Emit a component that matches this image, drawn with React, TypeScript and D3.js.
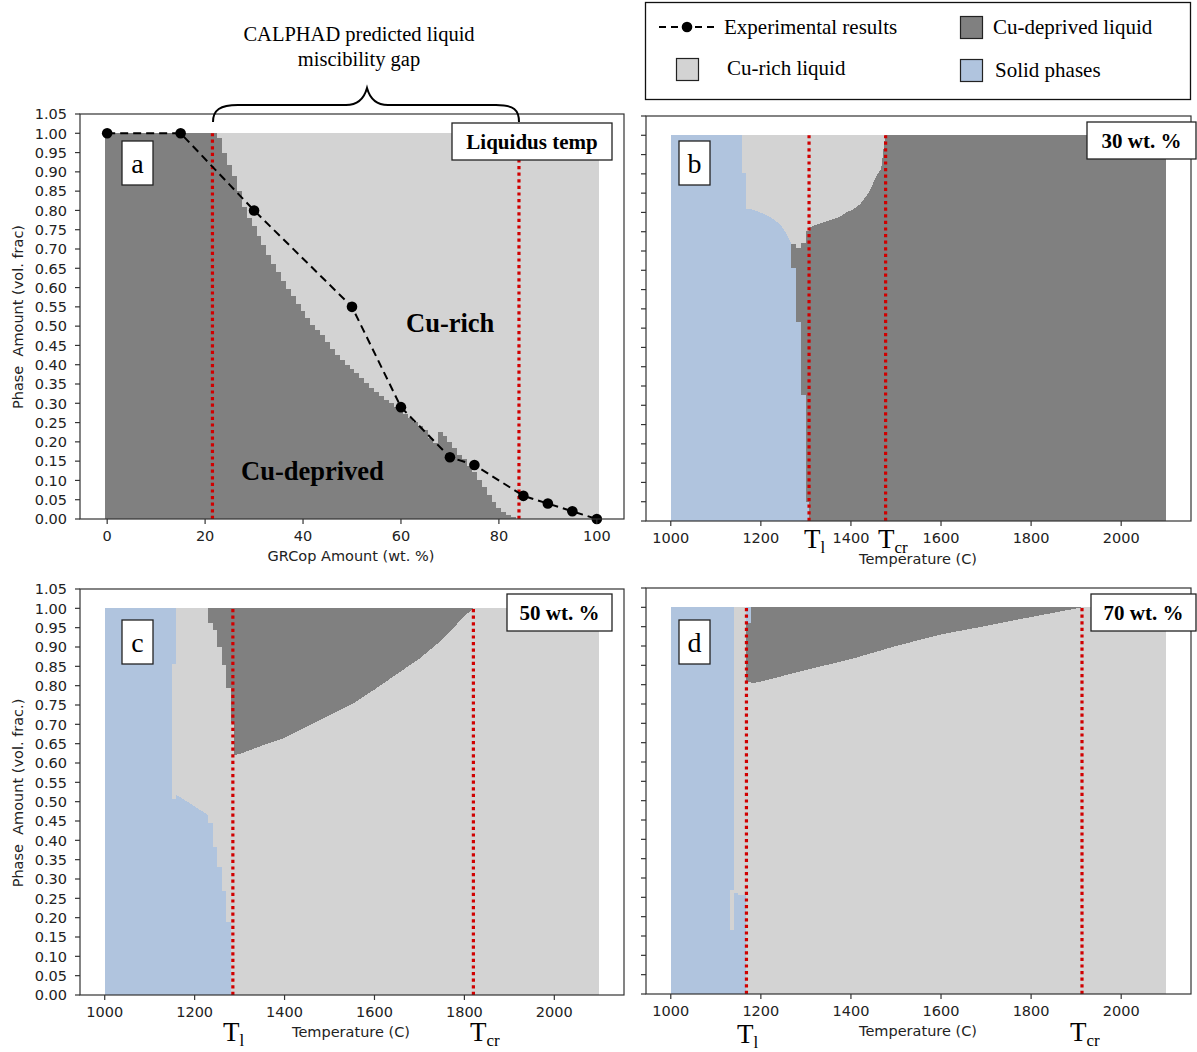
import React from 'react';
import * as d3 from 'd3';

const COLOR_DEPRIVED = '#808080';
const COLOR_RICH = '#d3d3d3';
const COLOR_SOLID = '#b0c4de';
const COLOR_RED = '#d00000';
const SANS = '"DejaVu Sans", sans-serif';
const SERIF = '"Liberation Serif", "Times New Roman", serif';

// ---------- Panel a : phase amount vs GRCop amount ----------
const grcopAmounts = d3.range(0, 101);
const cuDeprivedFraction = [
  1, 1, 1, 1, 1, 1, 1, 1, 1, 1, 1, 1, 1, 1, 1, 1, 1, 1, 1, 1, 1, 1, 1,
  0.987, 0.95, 0.918, 0.888, 0.85, 0.81, 0.78, 0.76, 0.735, 0.71,
  0.685, 0.662, 0.64, 0.618, 0.597, 0.577, 0.557, 0.538, 0.52, 0.503,
  0.49, 0.478, 0.458, 0.44, 0.425, 0.412, 0.4, 0.39, 0.378, 0.365,
  0.352, 0.34, 0.328, 0.318, 0.308, 0.3, 0.291, 0.28, 0.272, 0.262,
  0.252, 0.24, 0.23, 0.21, 0.197, 0.225, 0.214, 0.2, 0.183, 0.167,
  0.155, 0.137, 0.122, 0.1, 0.083, 0.063, 0.045, 0.028, 0.019, 0.011, 0.005,
  0, 0, 0, 0, 0, 0, 0, 0, 0, 0, 0, 0, 0, 0, 0, 0, 0,
];
const expAmount = [0, 15, 30, 50, 60, 70, 75, 85, 90, 95, 100];
const expFraction = [1.0, 1.0, 0.8, 0.55, 0.29, 0.16, 0.14, 0.06, 0.04, 0.02, 0.0];
const aMarkers = [21.5, 84.1];

// ---------- Panel b : 30 wt.% ----------
const bTemp = [1000, 1159, 1159, 1168, 1168, 1183, 1198, 1213, 1227, 1242, 1253, 1261, 1268, 1268, 1279, 1279, 1290, 1290, 1301, 1301, 1307, 1307, 1316, 1338, 1361, 1376, 1390, 1405, 1420, 1431, 1442, 1450, 1459, 1467, 1471, 1476, 2100];
const bSolid = [1, 1, 0.903, 0.903, 0.81, 0.807, 0.8, 0.793, 0.783, 0.77, 0.752, 0.735, 0.718, 0.657, 0.657, 0.515, 0.515, 0.326, 0.326, 0.049, 0.049, 0, 0, 0, 0, 0, 0, 0, 0, 0, 0, 0, 0, 0, 0, 0, 0];
const bDeprived = [0, 0, 0, 0, 0, 0, 0, 0, 0, 0, 0, 0, 0, 0.061, 0.061, 0.194, 0.194, 0.396, 0.396, 0.703, 0.703, 0.761, 0.765, 0.774, 0.783, 0.789, 0.8, 0.808, 0.821, 0.838, 0.856, 0.878, 0.9, 0.912, 0.951, 1.0, 1.0];
const bRich = [0, 0, 0.097, 0.097, 0.19, 0.193, 0.2, 0.207, 0.217, 0.23, 0.248, 0.265, 0.282, 0.282, 0.282, 0.291, 0.291, 0.278, 0.278, 0.248, 0.248, 0.239, 0.235, 0.226, 0.217, 0.211, 0.2, 0.192, 0.179, 0.162, 0.144, 0.122, 0.1, 0.088, 0.049, 0, 0];
const bMarkers = [1307, 1477];

// ---------- Panel c : 50 wt.% ----------
const cTemp = [1000, 1150, 1150, 1159, 1159, 1200, 1230, 1230, 1240, 1240, 1250, 1250, 1260, 1260, 1270, 1270, 1280, 1280, 1287, 1287, 1300, 1350, 1400, 1450, 1500, 1550, 1600, 1650, 1700, 1750, 1780, 1800, 1820, 2100];
const cSolid = [1, 1, 0.508, 0.508, 0.518, 0.488, 0.465, 0.444, 0.444, 0.384, 0.384, 0.332, 0.332, 0.268, 0.268, 0.19, 0.19, 0, 0, 0, 0, 0, 0, 0, 0, 0, 0, 0, 0, 0, 0, 0, 0, 0];
const cRich = [0, 0, 0.349, 0.349, 0.482, 0.512, 0.535, 0.517, 0.517, 0.56, 0.56, 0.568, 0.568, 0.585, 0.585, 0.603, 0.603, 0.703, 0.703, 0.621, 0.623, 0.645, 0.665, 0.695, 0.723, 0.752, 0.79, 0.83, 0.87, 0.918, 0.955, 0.98, 1.0, 1.0];
const cDeprived = [0, 0, 0, 0, 0, 0, 0, 0.039, 0.039, 0.056, 0.056, 0.1, 0.1, 0.147, 0.147, 0.207, 0.207, 0.297, 0.297, 0.379, 0.377, 0.355, 0.335, 0.305, 0.277, 0.248, 0.21, 0.17, 0.13, 0.082, 0.045, 0.02, 0, 0];
const cSolidTop = [0, 0, 0.143, 0.143, 0, 0, 0, 0, 0, 0, 0, 0, 0, 0, 0, 0, 0, 0, 0, 0, 0, 0, 0, 0, 0, 0, 0, 0, 0, 0, 0, 0, 0, 0];
const cMarkers = [1285, 1820];

// ---------- Panel d : 70 wt.% ----------
const dTemp = [1000, 1131, 1131, 1141, 1141, 1150, 1150, 1168, 1168, 1179, 1179, 1200, 1300, 1400, 1500, 1600, 1700, 1800, 1913, 2100];
const dSolid = [1, 1, 0.166, 0.166, 0.26, 0.26, 0.257, 0.257, 0, 0, 0, 0, 0, 0, 0, 0, 0, 0, 0, 0];
const dRich = [0, 0, 0.103, 0.103, 0.74, 0.74, 0.743, 0.743, 0.808, 0.808, 0.803, 0.808, 0.838, 0.866, 0.9, 0.93, 0.952, 0.975, 1.0, 1.0];
const dDeprived = [0, 0, 0, 0, 0, 0, 0, 0, 0.151, 0.151, 0.197, 0.192, 0.162, 0.134, 0.1, 0.07, 0.048, 0.025, 0, 0];
const dSolidTop = [0, 0, 0.731, 0.731, 0, 0, 0, 0, 0.041, 0.041, 0, 0, 0, 0, 0, 0, 0, 0, 0, 0];
const dMarkers = [1168, 1913];

// ---------- ticks ----------
const yTicks = [0, 0.05, 0.1, 0.15, 0.2, 0.25, 0.3, 0.35, 0.4, 0.45, 0.5, 0.55, 0.6, 0.65, 0.7, 0.75, 0.8, 0.85, 0.9, 0.95, 1.0, 1.05];
const gapTicks = [0, 20, 40, 60, 80, 100];
const tempTicks = [1000, 1200, 1400, 1600, 1800, 2000];

type Box = { left: number; right: number; top: number; bottom: number };
const BOX_A: Box = { left: 80, right: 624, top: 114, bottom: 519 };
const BOX_B: Box = { left: 646, right: 1191, top: 116, bottom: 521 };
const BOX_C: Box = { left: 80, right: 624, top: 589, bottom: 995 };
const BOX_D: Box = { left: 646, right: 1191, top: 588, bottom: 994 };

const fmtY = d3.format('.2f');

function Axes({ box, xs, ys, xTicks, showYLabels }: any) {
  return (
    <g>
      <rect x={box.left} y={box.top} width={box.right - box.left} height={box.bottom - box.top}
        fill="none" stroke="#333" strokeWidth={1.2} />
      {xTicks.map((t: number) => (
        <g key={'x' + t}>
          <line x1={xs(t)} x2={xs(t)} y1={box.bottom} y2={box.bottom + 5} stroke="#333" strokeWidth={1.2} />
          <text x={xs(t)} y={box.bottom + 22} textAnchor="middle" fontFamily={SANS} fontSize={14.5} fill="#222">{t}</text>
        </g>
      ))}
      {yTicks.map((t) => (
        <g key={'y' + t}>
          <line x1={box.left - 5} x2={box.left} y1={ys(t)} y2={ys(t)} stroke="#333" strokeWidth={1.2} />
          {showYLabels && (
            <text x={box.left - 13} y={ys(t)} dy="0.36em" textAnchor="end" fontFamily={SANS} fontSize={14.5} fill="#222">{fmtY(t)}</text>
          )}
        </g>
      ))}
    </g>
  );
}

function PhaseStack({ temps, layers, xs, ys }: any) {
  const rows = temps.map((T: number, i: number) => {
    const r: any = { T };
    layers.forEach((l: any, k: number) => { r['k' + k] = l.values[i]; });
    return r;
  });
  const keys = layers.map((_: any, k: number) => 'k' + k);
  const series = d3.stack<any>().keys(keys)(rows);
  const area = d3.area<any>()
    .x((d: any) => xs(d.data.T))
    .y0((d: any) => ys(d[0]))
    .y1((d: any) => ys(d[1]));
  return (
    <g>
      {series.map((s: any, k: number) => (
        <path key={k} d={area(s) || ''} fill={layers[k].color} shapeRendering="crispEdges" />
      ))}
    </g>
  );
}

function Markers({ values, xs, ys }: any) {
  return (
    <g>
      {values.map((v: number) => (
        <line key={v} x1={xs(v)} x2={xs(v)} y1={ys(0)} y2={ys(1)} stroke={COLOR_RED}
          strokeWidth={3.2} strokeDasharray="3.2,3.4" />
      ))}
    </g>
  );
}

function LetterBox({ x, y, letter }: any) {
  return (
    <g>
      <rect x={x} y={y} width={31} height={44} fill="#fff" stroke="#222" strokeWidth={1.3} />
      <text x={x + 15.5} y={y + 32} textAnchor="middle" fontFamily={SERIF} fontSize={28} fill="#000">{letter}</text>
    </g>
  );
}

function TagBox({ x, y, w, h, label }: any) {
  return (
    <g>
      <rect x={x} y={y} width={w} height={h} fill="#fff" stroke="#222" strokeWidth={1.3} />
      <text x={x + w / 2} y={y + h / 2 + 7} textAnchor="middle" fontFamily={SERIF} fontWeight="bold" fontSize={21} fill="#000">{label}</text>
    </g>
  );
}

function TLabel({ x, y, sub }: any) {
  return (
    <text x={x} y={y} fontFamily={SERIF} fontSize={27} fill="#000">
      T<tspan fontSize={17} dy={5}>{sub}</tspan>
    </text>
  );
}

export default function App() {
  const xa = d3.scaleLinear().domain([-5.55, 105.55]).range([BOX_A.left, BOX_A.right]);
  const ya = d3.scaleLinear().domain([0, 1.05]).range([BOX_A.bottom, BOX_A.top]);
  const xb = d3.scaleLinear().domain([945, 2155]).range([BOX_B.left, BOX_B.right]);
  const yb = d3.scaleLinear().domain([0, 1.05]).range([BOX_B.bottom, BOX_B.top]);
  const xc = d3.scaleLinear().domain([945, 2155]).range([BOX_C.left, BOX_C.right]);
  const yc = d3.scaleLinear().domain([0, 1.05]).range([BOX_C.bottom, BOX_C.top]);
  const xd = d3.scaleLinear().domain([945, 2155]).range([BOX_D.left, BOX_D.right]);
  const yd = d3.scaleLinear().domain([0, 1.05]).range([BOX_D.bottom, BOX_D.top]);

  const expPts = expAmount.map((a, i) => [a, expFraction[i]] as [number, number]);
  const expLine = d3.line<[number, number]>().x((d) => xa(d[0])).y((d) => ya(d[1]))(expPts) || '';

  return (
    <svg width={1197} height={1052} style={{ position: 'absolute', left: 0, top: 0, background: '#fff' }}>
      <rect x={0} y={0} width={1197} height={1052} fill="#fff" />

      {/* ---------------- Panel a ---------------- */}
      <g>
        {grcopAmounts.map((g, i) => {
          const x0 = xa(g - 0.5);
          const w = xa(g + 0.5) - x0;
          const v = cuDeprivedFraction[i];
          return (
            <g key={g}>
              <rect x={x0} y={ya(1)} width={w} height={ya(v) - ya(1)} fill={COLOR_RICH} shapeRendering="crispEdges" />
              <rect x={x0} y={ya(v)} width={w} height={ya(0) - ya(v)} fill={COLOR_DEPRIVED} shapeRendering="crispEdges" />
            </g>
          );
        })}
        <Markers values={aMarkers} xs={xa} ys={ya} />
        <path d={expLine} fill="none" stroke="#000" strokeWidth={2} strokeDasharray="8,5" />
        {expPts.map((p, i) => (
          <circle key={i} cx={xa(p[0])} cy={ya(p[1])} r={5.3} fill="#000" />
        ))}
        <Axes box={BOX_A} xs={xa} ys={ya} xTicks={gapTicks} showYLabels={true} />
        <LetterBox x={122} y={141} letter="a" />
        <TagBox x={452} y={123} w={160} h={37} label="Liquidus temp" />
        <text x={406} y={332} fontFamily={SERIF} fontWeight="bold" fontSize={26.5} fill="#000">Cu-rich</text>
        <text x={241} y={480} fontFamily={SERIF} fontWeight="bold" fontSize={26.5} fill="#000">Cu-deprived</text>
        <text x={351} y={561} textAnchor="middle" fontFamily={SANS} fontSize={14.5} fill="#222">GRCop Amount (wt. %)</text>
        <text transform="translate(23,317) rotate(-90)" textAnchor="middle" fontFamily={SANS} fontSize={14.5} fill="#222" style={{ whiteSpace: 'pre' }}>Phase  Amount (vol. frac)</text>
      </g>

      {/* brace annotation */}
      <path d="M213,122 C213,110 220,105 238,105 L346,105 C358,105 364,99 367,88 C370,99 376,105 388,105 L496,105 C514,105 519,110 519,122"
        fill="none" stroke="#000" strokeWidth={2} />
      <text x={359} y={41} textAnchor="middle" fontFamily={SERIF} fontSize={20.5} fill="#000">CALPHAD predicted liquid</text>
      <text x={359} y={66} textAnchor="middle" fontFamily={SERIF} fontSize={20.5} fill="#000">miscibility gap</text>

      {/* ---------------- Panel b ---------------- */}
      <g>
        <PhaseStack temps={bTemp} xs={xb} ys={yb} layers={[
          { values: bSolid, color: COLOR_SOLID },
          { values: bDeprived, color: COLOR_DEPRIVED },
          { values: bRich, color: COLOR_RICH },
        ]} />
        <Markers values={bMarkers} xs={xb} ys={yb} />
        <Axes box={BOX_B} xs={xb} ys={yb} xTicks={tempTicks} showYLabels={false} />
        <LetterBox x={679} y={141} letter="b" />
        <TagBox x={1087} y={122} w={109} h={37} label="30 wt. %" />
        <text x={918} y={564} textAnchor="middle" fontFamily={SANS} fontSize={14.5} fill="#222">Temperature (C)</text>
        <TLabel x={804} y={548} sub="l" />
        <TLabel x={878} y={548} sub="cr" />
      </g>

      {/* ---------------- Panel c ---------------- */}
      <g>
        <PhaseStack temps={cTemp} xs={xc} ys={yc} layers={[
          { values: cSolid, color: COLOR_SOLID },
          { values: cRich, color: COLOR_RICH },
          { values: cDeprived, color: COLOR_DEPRIVED },
          { values: cSolidTop, color: COLOR_SOLID },
        ]} />
        <Markers values={cMarkers} xs={xc} ys={yc} />
        <Axes box={BOX_C} xs={xc} ys={yc} xTicks={tempTicks} showYLabels={true} />
        <LetterBox x={122} y={620} letter="c" />
        <TagBox x={507} y={594} w={105} h={37} label="50 wt. %" />
        <text x={351} y={1037} textAnchor="middle" fontFamily={SANS} fontSize={14.5} fill="#222">Temperature (C)</text>
        <text transform="translate(23,793) rotate(-90)" textAnchor="middle" fontFamily={SANS} fontSize={14.5} fill="#222" style={{ whiteSpace: 'pre' }}>Phase  Amount (vol. frac.)</text>
        <TLabel x={223} y={1041} sub="l" />
        <TLabel x={470} y={1041} sub="cr" />
      </g>

      {/* ---------------- Panel d ---------------- */}
      <g>
        <PhaseStack temps={dTemp} xs={xd} ys={yd} layers={[
          { values: dSolid, color: COLOR_SOLID },
          { values: dRich, color: COLOR_RICH },
          { values: dDeprived, color: COLOR_DEPRIVED },
          { values: dSolidTop, color: COLOR_SOLID },
        ]} />
        <Markers values={dMarkers} xs={xd} ys={yd} />
        <Axes box={BOX_D} xs={xd} ys={yd} xTicks={tempTicks} showYLabels={false} />
        <LetterBox x={679} y={620} letter="d" />
        <TagBox x={1091} y={594} w={105} h={37} label="70 wt. %" />
        <text x={918} y={1036} textAnchor="middle" fontFamily={SANS} fontSize={14.5} fill="#222">Temperature (C)</text>
        <TLabel x={737} y={1043} sub="l" />
        <TLabel x={1070} y={1041} sub="cr" />
      </g>

      {/* ---------------- Legend ---------------- */}
      <g>
        <rect x={645.5} y={2.5} width={545} height={97} fill="#fff" stroke="#111" strokeWidth={1.3} />
        <line x1={659} x2={714} y1={27} y2={27} stroke="#000" strokeWidth={2} strokeDasharray="7,5" />
        <circle cx={687} cy={27} r={5.3} fill="#000" />
        <text x={724} y={34} fontFamily={SERIF} fontSize={21} fill="#000">Experimental results</text>
        <rect x={960.5} y={16.5} width={22} height={22} fill={COLOR_DEPRIVED} stroke="#222" strokeWidth={1.2} />
        <text x={993} y={34} fontFamily={SERIF} fontSize={21} fill="#000">Cu-deprived liquid</text>
        <rect x={676.5} y={58.5} width={22} height={22} fill={COLOR_RICH} stroke="#222" strokeWidth={1.2} />
        <text x={727} y={75} fontFamily={SERIF} fontSize={21} fill="#000">Cu-rich liquid</text>
        <rect x={960.5} y={59.5} width={22} height={22} fill={COLOR_SOLID} stroke="#222" strokeWidth={1.2} />
        <text x={995} y={77} fontFamily={SERIF} fontSize={21} fill="#000">Solid phases</text>
      </g>
    </svg>
  );
}
